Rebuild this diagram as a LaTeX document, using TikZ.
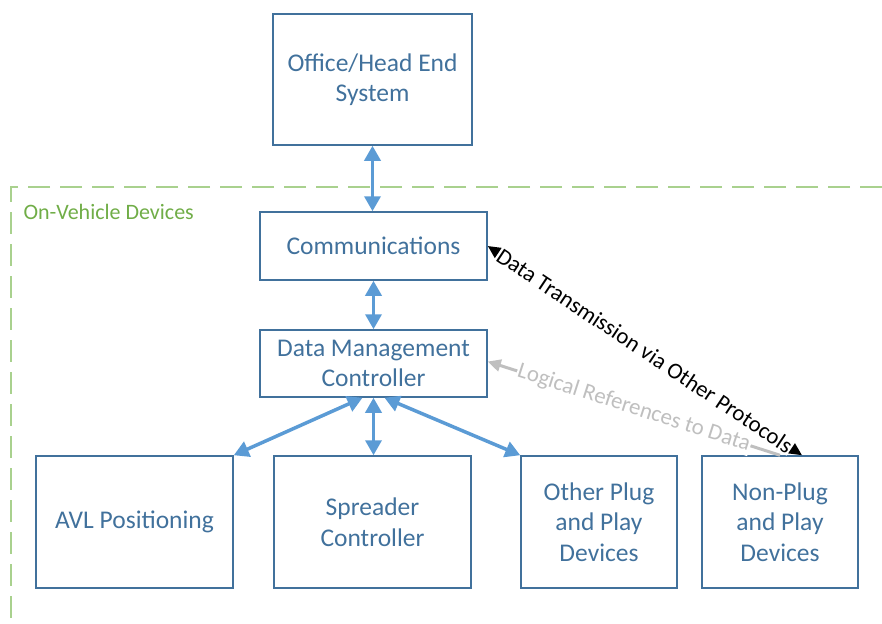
\documentclass[tikz,border=0pt]{standalone}
\usepackage{fontspec}
\setmainfont{Carlito}
\usepackage{xcolor}
\usepackage{tikz}
\usetikzlibrary{positioning,calc,arrows.meta}

\definecolor{boxblue}{HTML}{41719C}
\definecolor{arrowblue}{HTML}{5B9BD5}
\definecolor{zonegreen}{HTML}{A9D18E}
\definecolor{labelgreen}{HTML}{70AD47}
\definecolor{refgrey}{HTML}{BFBFBF}

\begin{document}
\begin{tikzpicture}[
    x=1pt, y=-1pt,
    devbox/.style={rectangle, draw=boxblue, line width=1.5pt, text=boxblue, align=center, inner sep=0pt, font=\fontsize{25.5}{30.5}\selectfont},
    bluearrow/.style={{Triangle[length=15pt,width=16pt]}-{Triangle[length=15pt,width=16pt]}, draw=arrowblue, line width=3.5pt},
    otherarrow/.style={{Triangle[length=13pt,width=12pt]}-{Triangle[length=13pt,width=12pt]}, line width=2.5pt},
    refarrow/.style={-{Triangle[length=13pt,width=12pt]}, draw=refgrey, line width=3pt},
    linklabel/.style={midway, sloped, fill=white, inner sep=1pt, font=\fontsize{22.8}{27}\selectfont}
]
    \useasboundingbox (0,0) rectangle (882,623);

    % On-vehicle zone
    \draw[zonegreen, line width=2.5pt, dash pattern=on 22pt off 10pt] (882,187) -- (11,187) -- (11,623);
    \node[anchor=west, text=labelgreen, font=\fontsize{22}{26}\selectfont] (zone) at (20,212) {On-Vehicle Devices};

    % Boxes
    \node[devbox, minimum width=199pt, minimum height=131pt] (office) at (372.5,79.5) {Office/Head End\\System};
    \node[devbox, minimum width=227pt, minimum height=68pt] (comm) at (373.5,246) {Communications};
    \node[devbox, minimum width=227pt, minimum height=67pt] (dmc) at (373.5,363.5) {Data Management\\Controller};
    \node[devbox, minimum width=197pt, minimum height=132pt] (avl) at (134.5,522) {AVL Positioning};
    \node[devbox, minimum width=197pt, minimum height=132pt] (spreader) at (372.5,522) {Spreader\\Controller};
    \node[devbox, minimum width=156pt, minimum height=132pt] (other) at (599,522) {Other Plug\\and Play\\Devices};
    \node[devbox, minimum width=156pt, minimum height=132pt] (nonplug) at (780,522) {Non-Plug\\and Play\\Devices};

    % Links
    \draw[bluearrow] (office.south) -- (office.south |- comm.north);
    \draw[bluearrow] (comm.south) -- (comm.south |- dmc.north);
    \draw[bluearrow] ([xshift=-11pt]dmc.south) -- (avl.north east);
    \draw[bluearrow] (dmc.south) -- (dmc.south |- spreader.north);
    \draw[bluearrow] ([xshift=11pt]dmc.south) -- (other.north west);

    \draw[otherarrow] (comm.east) -- ([xshift=22pt]nonplug.north)
        node[linklabel] {Data Transmission via Other Protocols};
    \draw[refarrow] (nonplug.north) -- ([yshift=2pt]dmc.east)
        node[linklabel, text=refgrey] {Logical References to Data};
\end{tikzpicture}
\end{document}
